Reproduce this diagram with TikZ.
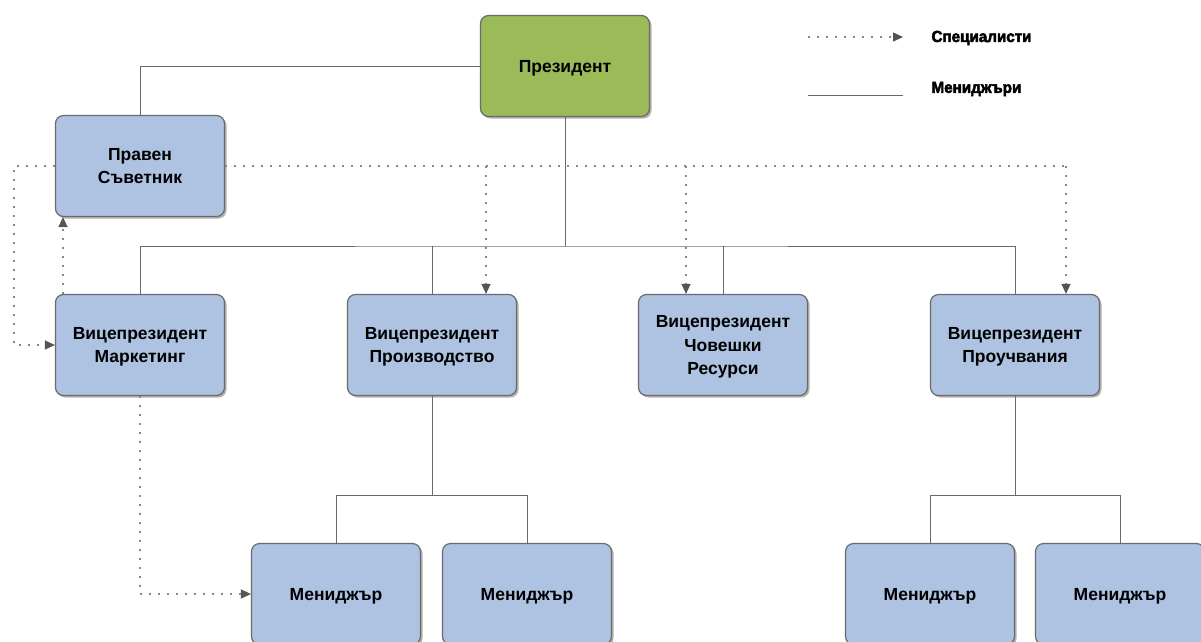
\documentclass[tikz,border=0pt]{standalone}
\usepackage{fontspec}
\setmainfont{Liberation Sans}
\newfontfamily\legendfont[BoldFeatures={FakeBold=3,FakeStretch=0.95}]{Liberation Sans}
\usetikzlibrary{arrows.meta,shadows}

\definecolor{unitblue}{HTML}{AEC3E1}
\definecolor{headgreen}{HTML}{9BBB59}
\definecolor{rimgray}{HTML}{6A6A6A}
\definecolor{tipgray}{HTML}{555555}

\begin{document}
\begin{tikzpicture}[x=1pt,y=-1pt,
  unit/.style={draw=rimgray, line width=1.2pt, rounded corners=8pt, fill=unitblue,
    minimum width=169pt, minimum height=101pt, align=center, text depth=0pt,
    font=\bfseries\fontsize{17.5}{23.5}\selectfont,
    drop shadow={shadow xshift=2pt, shadow yshift=-2pt, opacity=0.3, fill=black}},
  headunit/.style={unit, fill=headgreen},
  mgrline/.style={draw=rimgray, line width=0.9pt},
  specplain/.style={draw=rimgray!80, line width=1.4pt, dash pattern=on 2pt off 7pt},
  specline/.style={specplain,
    -{Triangle[length=10pt,width=9pt,fill=tipgray,color=tipgray]}},
  legtext/.style={anchor=west, font=\legendfont\bfseries\fontsize{16}{18}\selectfont}]

  \clip (0,0) rectangle (1201,641);

  % boxes
  \node[headunit] (pres)   at (565,66)  {Президент};
  \node[unit]     (legal)  at (140,166) {Правен\\Съветник};
  \node[unit]     (vpmark) at (140,345) {Вицепрезидент\\Маркетинг};
  \node[unit]     (vpprod) at (432,345) {Вицепрезидент\\Производство};
  \node[unit]     (vphr)   at (723,345) {Вицепрезидент\\Човешки\\Ресурси};
  \node[unit]     (vpres)  at (1015,345) {Вицепрезидент\\Проучвания};
  \node[unit]     (mgra)   at (336,594) {Мениджър};
  \node[unit]     (mgrb)   at (527,594) {Мениджър};
  \node[unit]     (mgrc)   at (930,594) {Мениджър};
  \node[unit]     (mgrd)   at (1120,594) {Мениджър};

  % managers
  \coordinate (bus)      at (565,246);
  \coordinate (prodfork) at (432,495);
  \coordinate (resfork)  at (1015,495);
  \draw[mgrline] (pres.west) -| (legal.north);
  \draw[mgrline] (pres.south) -- (bus);
  \draw[mgrline] (vpmark.north) |- (bus) -| (vpres.north);
  \draw[mgrline] (vpprod.north) -- (vpprod.north |- bus);
  \draw[mgrline] (vphr.north) -- (vphr.north |- bus);
  \draw[mgrline] (vpprod.south) -- (prodfork);
  \draw[mgrline] (mgra.north) |- (prodfork) -| (mgrb.north);
  \draw[mgrline] (vpres.south) -- (resfork);
  \draw[mgrline] (mgrc.north) |- (resfork) -| (mgrd.north);

  % specialists
  \coordinate (dropa) at (486,166);
  \coordinate (dropb) at (686,166);
  \coordinate (dropc) at (1066,166);
  \coordinate (loopl) at (14,166);
  \coordinate (upx)   at (63,250);
  \draw[specplain] (legal.east) -- (dropc);
  \draw[specline] (dropa) -- (dropa |- vpprod.north);
  \draw[specline] (dropb) -- (dropb |- vphr.north);
  \draw[specline] (dropc) -- (dropc |- vpres.north);
  \draw[specline] (legal.west) -- (loopl) |- (vpmark.west);
  \draw[specline] (upx |- vpmark.north) -- (upx |- legal.south);
  \draw[specline] (vpmark.south) |- (mgra.west);

  % legend
  \coordinate (keya) at (808,37);
  \coordinate (keyb) at (903,37);
  \coordinate (keyc) at (808,95);
  \coordinate (keyd) at (903,95);
  \draw[specline] (keya) -- (keyb);
  \draw[mgrline] (keyc) -- (keyd);
  \node[legtext] (keyspec) at (928,38) {Специалисти};
  \node[legtext] (keymgr)  at (928,89) {Мениджъри};
\end{tikzpicture}
\end{document}
